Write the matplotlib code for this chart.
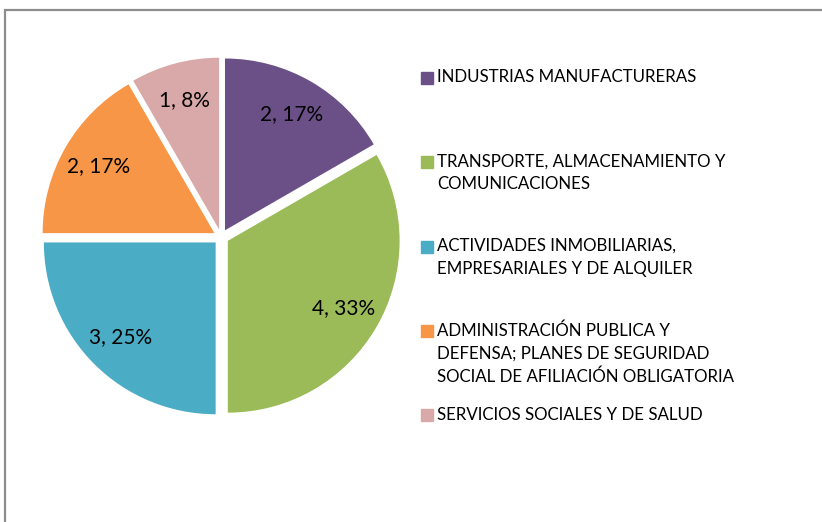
import matplotlib.pyplot as plt
from matplotlib.patches import Rectangle

plt.rcParams['font.family'] = ['Lato', 'DejaVu Sans']

labels = [
    'INDUSTRIAS MANUFACTURERAS',
    'TRANSPORTE, ALMACENAMIENTO Y\nCOMUNICACIONES',
    'ACTIVIDADES INMOBILIARIAS,\nEMPRESARIALES Y DE ALQUILER',
    'ADMINISTRACIÓN PUBLICA Y\nDEFENSA; PLANES DE SEGURIDAD\nSOCIAL DE AFILIACIÓN OBLIGATORIA',
    'SERVICIOS SOCIALES Y DE SALUD',
]
values = [2, 4, 3, 2, 1]
colors = ['#6a5087', '#9bbb59', '#4bacc6', '#f79646', '#d9a9a9']

total = sum(values)


def fmt(pct):
    v = round(pct * total / 100)
    return '{}, {:.0f}%'.format(v, pct)


fig = plt.figure(figsize=(8.22, 5.22), dpi=100)

# outer chart border (top and left edge visible)
fig.patches.append(Rectangle((5 / 822, -0.5), 2, 1.5 - 10 / 522, transform=fig.transFigure,
                             fill=False, edgecolor='#8c8c8c', linewidth=1.6))

ax = fig.add_axes([0.039, 0.184, 0.46, 0.724])
wedges, texts = ax.pie(values, colors=colors, startangle=90, counterclock=False,
                       explode=[0.045] * 5, labels=[fmt(v / total * 100) for v in values],
                       labeldistance=0.78, textprops=dict(fontsize=15, color='black'))
for t in texts:
    t.set_ha('center')
    t.set_va('center')
ax.set_xlim(-1.1, 1.1)
ax.set_ylim(-1.1, 1.1)
ax.set_aspect('equal')
ax.axis('off')

# legend with equal slots per entry
x0 = 421 / 822
y_first = 1 - 78 / 522
step = 84.3 / 522
for i, (lab, col) in enumerate(zip(labels, colors)):
    y = y_first - i * step
    fig.patches.append(Rectangle((x0, y - 6 / 522), 12 / 822, 12 / 522,
                                 transform=fig.transFigure, color=col))
    fig.text(x0 + 16 / 822, y + 8.5 / 522, lab, fontsize=12.2, va='top', ha='left',
             linespacing=1.5, transform=fig.transFigure)

fig.savefig('out.png', dpi=100)
